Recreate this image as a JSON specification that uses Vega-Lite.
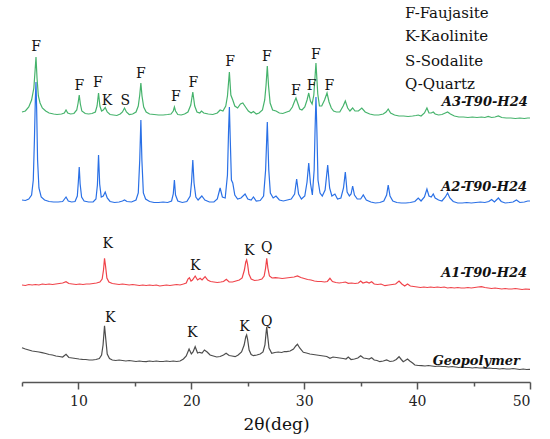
{
  "$schema": "https://vega.github.io/schema/vega-lite/v6.json",
  "width": 508,
  "height": 382,
  "autosize": {"type": "none"},
  "padding": {"left": 22, "top": 0, "right": 20, "bottom": 57},
  "background": "white",
  "config": {"view": {"stroke": null}},
  "datasets": {
    "a3": [
      {"x":5.0,"y":270},{"x":5.3,"y":271},{"x":5.6,"y":275},{"x":5.85,"y":282},{"x":6.05,"y":294},{"x":6.15,"y":310},{"x":6.24,"y":325},{"x":6.33,"y":304},{"x":6.45,"y":286},{"x":6.6,"y":279},{"x":6.8,"y":274},{"x":7.1,"y":271},{"x":7.4,"y":269},{"x":7.8,"y":268},{"x":8.1,"y":267.5},{"x":8.5,"y":268},{"x":8.75,"y":269},{"x":8.9,"y":272},{"x":9.05,"y":269},{"x":9.3,"y":268},{"x":9.6,"y":268.5},{"x":9.85,"y":272},{"x":9.97,"y":279},{"x":10.07,"y":287},{"x":10.17,"y":278},{"x":10.3,"y":271},{"x":10.6,"y":268.5},{"x":10.9,"y":268},{"x":11.2,"y":268.5},{"x":11.5,"y":270},{"x":11.65,"y":276},{"x":11.78,"y":289},{"x":11.9,"y":276},{"x":12.05,"y":271},{"x":12.2,"y":272},{"x":12.37,"y":274.5},{"x":12.55,"y":270},{"x":12.8,"y":267.5},{"x":13.1,"y":267},{"x":13.4,"y":266.5},{"x":13.7,"y":268},{"x":13.9,"y":270},{"x":14.08,"y":274},{"x":14.25,"y":270},{"x":14.5,"y":267.5},{"x":14.8,"y":268},{"x":15.1,"y":270},{"x":15.3,"y":276},{"x":15.43,"y":287},{"x":15.53,"y":299},{"x":15.63,"y":286},{"x":15.78,"y":275},{"x":16.0,"y":270},{"x":16.3,"y":268},{"x":16.7,"y":267.5},{"x":17.1,"y":267},{"x":17.5,"y":267},{"x":17.9,"y":267.5},{"x":18.2,"y":268},{"x":18.4,"y":271},{"x":18.5,"y":275},{"x":18.6,"y":271},{"x":18.8,"y":267.5},{"x":19.1,"y":267},{"x":19.4,"y":268},{"x":19.7,"y":270},{"x":19.95,"y":277},{"x":20.13,"y":290},{"x":20.3,"y":276},{"x":20.5,"y":270},{"x":20.75,"y":269},{"x":20.9,"y":271},{"x":21.1,"y":269},{"x":21.5,"y":268},{"x":21.9,"y":267.5},{"x":22.3,"y":269},{"x":22.55,"y":272},{"x":22.8,"y":271},{"x":23.05,"y":276},{"x":23.2,"y":286},{"x":23.37,"y":310},{"x":23.5,"y":287},{"x":23.67,"y":282},{"x":23.85,"y":276},{"x":24.1,"y":274},{"x":24.35,"y":278},{"x":24.56,"y":279},{"x":24.8,"y":275},{"x":25.05,"y":271},{"x":25.3,"y":269},{"x":25.5,"y":270.5},{"x":25.75,"y":268},{"x":26.0,"y":269},{"x":26.3,"y":272},{"x":26.5,"y":282},{"x":26.62,"y":297},{"x":26.73,"y":316},{"x":26.84,"y":296},{"x":26.98,"y":279},{"x":27.2,"y":272},{"x":27.5,"y":271},{"x":27.8,"y":269},{"x":28.1,"y":268.5},{"x":28.45,"y":270},{"x":28.7,"y":271},{"x":28.95,"y":275},{"x":29.12,"y":280},{"x":29.27,"y":284},{"x":29.42,"y":279},{"x":29.6,"y":273},{"x":29.8,"y":272},{"x":30.05,"y":275},{"x":30.25,"y":282},{"x":30.4,"y":289},{"x":30.55,"y":281},{"x":30.7,"y":278},{"x":30.85,"y":287},{"x":31.04,"y":319},{"x":31.2,"y":288},{"x":31.35,"y":276},{"x":31.55,"y":276},{"x":31.8,"y":282},{"x":32.02,"y":289},{"x":32.2,"y":280},{"x":32.4,"y":274},{"x":32.6,"y":271},{"x":32.85,"y":270},{"x":33.15,"y":270},{"x":33.45,"y":276},{"x":33.64,"y":281},{"x":33.85,"y":274},{"x":34.05,"y":271},{"x":34.29,"y":274},{"x":34.5,"y":271},{"x":34.8,"y":271},{"x":35.1,"y":274},{"x":35.4,"y":270},{"x":35.8,"y":268},{"x":36.2,"y":267},{"x":36.6,"y":267},{"x":37.0,"y":268},{"x":37.25,"y":270},{"x":37.44,"y":273},{"x":37.65,"y":269},{"x":38.0,"y":267},{"x":38.4,"y":266},{"x":38.8,"y":266},{"x":39.2,"y":265.5},{"x":39.6,"y":266},{"x":39.9,"y":266.5},{"x":40.1,"y":267},{"x":40.35,"y":266},{"x":40.65,"y":269},{"x":40.87,"y":274},{"x":41.05,"y":269},{"x":41.25,"y":269},{"x":41.43,"y":270},{"x":41.6,"y":268},{"x":41.9,"y":267},{"x":42.2,"y":267.5},{"x":42.5,"y":269},{"x":42.7,"y":270},{"x":42.95,"y":268},{"x":43.3,"y":266},{"x":43.7,"y":265},{"x":44.1,"y":265},{"x":44.5,"y":264.5},{"x":44.9,"y":265},{"x":45.3,"y":264.5},{"x":45.7,"y":265},{"x":46.0,"y":264.5},{"x":46.3,"y":265.5},{"x":46.6,"y":264.5},{"x":46.9,"y":265},{"x":47.2,"y":266},{"x":47.5,"y":264.5},{"x":47.9,"y":264},{"x":48.3,"y":264},{"x":48.7,"y":263.5},{"x":49.1,"y":264},{"x":49.5,"y":263.5},{"x":49.8,"y":264},{"x":50.0,"y":264}
    ],
    "a2": [
      {"x":5.0,"y":182},{"x":5.3,"y":181.5},{"x":5.6,"y":183},{"x":5.85,"y":187},{"x":6.0,"y":202},{"x":6.1,"y":242},{"x":6.18,"y":282},{"x":6.24,"y":300},{"x":6.3,"y":272},{"x":6.38,"y":222},{"x":6.5,"y":194},{"x":6.7,"y":185},{"x":7.0,"y":182},{"x":7.4,"y":180.5},{"x":7.8,"y":180},{"x":8.2,"y":180},{"x":8.6,"y":180.5},{"x":8.9,"y":185},{"x":9.1,"y":181},{"x":9.4,"y":180},{"x":9.7,"y":180.5},{"x":9.9,"y":186},{"x":9.99,"y":200},{"x":10.07,"y":215},{"x":10.15,"y":198},{"x":10.28,"y":185},{"x":10.5,"y":181},{"x":10.9,"y":180},{"x":11.3,"y":180},{"x":11.55,"y":183},{"x":11.68,"y":197},{"x":11.78,"y":227},{"x":11.88,"y":198},{"x":12.02,"y":185},{"x":12.2,"y":186},{"x":12.37,"y":190},{"x":12.55,"y":184},{"x":12.8,"y":180.5},{"x":13.2,"y":179.5},{"x":13.6,"y":180},{"x":13.9,"y":181},{"x":14.08,"y":182},{"x":14.3,"y":180.5},{"x":14.7,"y":180},{"x":15.1,"y":182},{"x":15.3,"y":189},{"x":15.43,"y":222},{"x":15.53,"y":262},{"x":15.62,"y":222},{"x":15.75,"y":189},{"x":15.95,"y":183},{"x":16.3,"y":180.5},{"x":16.7,"y":179.5},{"x":17.1,"y":179.5},{"x":17.5,"y":180},{"x":17.9,"y":179.5},{"x":18.25,"y":181},{"x":18.4,"y":188},{"x":18.5,"y":202},{"x":18.6,"y":187},{"x":18.8,"y":181},{"x":19.2,"y":179.5},{"x":19.6,"y":180.5},{"x":19.9,"y":186},{"x":20.02,"y":200},{"x":20.13,"y":222},{"x":20.24,"y":199},{"x":20.4,"y":185},{"x":20.6,"y":182},{"x":20.93,"y":186},{"x":21.2,"y":182},{"x":21.6,"y":180},{"x":22.0,"y":180},{"x":22.3,"y":183},{"x":22.55,"y":194},{"x":22.75,"y":185},{"x":23.0,"y":184},{"x":23.2,"y":207},{"x":23.3,"y":252},{"x":23.37,"y":275},{"x":23.45,"y":242},{"x":23.55,"y":202},{"x":23.67,"y":199},{"x":23.85,"y":187},{"x":24.1,"y":183},{"x":24.4,"y":184},{"x":24.76,"y":188},{"x":25.0,"y":183},{"x":25.3,"y":182},{"x":25.5,"y":185},{"x":25.75,"y":181},{"x":26.1,"y":181.5},{"x":26.4,"y":186},{"x":26.58,"y":212},{"x":26.73,"y":260},{"x":26.86,"y":212},{"x":27.0,"y":189},{"x":27.25,"y":184},{"x":27.5,"y":186},{"x":27.8,"y":182},{"x":28.15,"y":181},{"x":28.5,"y":182},{"x":28.85,"y":183},{"x":29.15,"y":188},{"x":29.33,"y":203},{"x":29.5,"y":188},{"x":29.75,"y":183},{"x":30.05,"y":186},{"x":30.25,"y":200},{"x":30.4,"y":219},{"x":30.55,"y":199},{"x":30.72,"y":187},{"x":30.88,"y":212},{"x":30.96,"y":252},{"x":31.04,"y":285},{"x":31.12,"y":252},{"x":31.22,"y":202},{"x":31.4,"y":189},{"x":31.6,"y":186},{"x":31.85,"y":192},{"x":32.08,"y":217},{"x":32.25,"y":194},{"x":32.45,"y":186},{"x":32.72,"y":188},{"x":32.95,"y":183},{"x":33.25,"y":184},{"x":33.48,"y":194},{"x":33.64,"y":210},{"x":33.8,"y":190},{"x":34.0,"y":186},{"x":34.15,"y":188},{"x":34.29,"y":196},{"x":34.45,"y":187},{"x":34.7,"y":183},{"x":35.0,"y":183},{"x":35.23,"y":187},{"x":35.5,"y":182},{"x":35.9,"y":180},{"x":36.3,"y":179},{"x":36.7,"y":179.5},{"x":37.05,"y":181},{"x":37.3,"y":187},{"x":37.44,"y":197},{"x":37.6,"y":186},{"x":37.85,"y":181},{"x":38.2,"y":179.5},{"x":38.6,"y":179},{"x":39.0,"y":179},{"x":39.4,"y":179.5},{"x":39.8,"y":180.5},{"x":40.1,"y":184},{"x":40.35,"y":181},{"x":40.65,"y":185},{"x":40.87,"y":193},{"x":41.05,"y":186},{"x":41.25,"y":185},{"x":41.43,"y":188},{"x":41.6,"y":184},{"x":41.9,"y":182},{"x":42.2,"y":181},{"x":42.5,"y":185},{"x":42.7,"y":189},{"x":42.9,"y":184},{"x":43.2,"y":180.5},{"x":43.6,"y":179},{"x":44.0,"y":179},{"x":44.4,"y":179.5},{"x":44.8,"y":179},{"x":45.2,"y":179.5},{"x":45.6,"y":180},{"x":46.0,"y":179.5},{"x":46.35,"y":180.5},{"x":46.6,"y":182.5},{"x":46.85,"y":180},{"x":47.2,"y":184},{"x":47.45,"y":180.5},{"x":47.8,"y":179},{"x":48.2,"y":179.5},{"x":48.5,"y":180},{"x":48.8,"y":182},{"x":49.1,"y":179.5},{"x":49.5,"y":180},{"x":49.8,"y":181},{"x":50.0,"y":181}
    ],
    "a1": [
      {"x":5.0,"y":97},{"x":5.3,"y":96.5},{"x":5.6,"y":97.5},{"x":5.9,"y":97},{"x":6.2,"y":97.5},{"x":6.5,"y":97},{"x":6.8,"y":98},{"x":7.1,"y":97.5},{"x":7.4,"y":98},{"x":7.7,"y":97.5},{"x":8.0,"y":98},{"x":8.3,"y":98.5},{"x":8.6,"y":99},{"x":8.9,"y":100.3},{"x":9.15,"y":98.5},{"x":9.45,"y":98},{"x":9.8,"y":97.5},{"x":10.1,"y":98},{"x":10.4,"y":97.5},{"x":10.7,"y":98},{"x":11.0,"y":98},{"x":11.3,"y":98.5},{"x":11.6,"y":99},{"x":11.9,"y":100},{"x":12.1,"y":103},{"x":12.22,"y":112},{"x":12.31,"y":123.7},{"x":12.4,"y":116},{"x":12.52,"y":104},{"x":12.7,"y":100},{"x":13.0,"y":98.5},{"x":13.3,"y":98},{"x":13.6,"y":97.5},{"x":13.9,"y":98},{"x":14.2,"y":97.5},{"x":14.5,"y":97},{"x":14.8,"y":97.5},{"x":15.1,"y":97},{"x":15.4,"y":96.5},{"x":15.7,"y":97},{"x":16.0,"y":96.5},{"x":16.3,"y":97},{"x":16.6,"y":96.5},{"x":16.9,"y":97},{"x":17.2,"y":96},{"x":17.5,"y":96.5},{"x":17.8,"y":97},{"x":18.1,"y":96.5},{"x":18.4,"y":97},{"x":18.7,"y":97.5},{"x":19.0,"y":97},{"x":19.3,"y":98},{"x":19.55,"y":99},{"x":19.7,"y":103},{"x":19.83,"y":104.3},{"x":19.97,"y":101},{"x":20.1,"y":102},{"x":20.34,"y":106},{"x":20.55,"y":102},{"x":20.78,"y":103.7},{"x":20.95,"y":102},{"x":21.22,"y":105.3},{"x":21.45,"y":102},{"x":21.7,"y":100.5},{"x":22.0,"y":100},{"x":22.3,"y":99.5},{"x":22.6,"y":100},{"x":22.85,"y":100.5},{"x":23.1,"y":102.7},{"x":23.35,"y":100},{"x":23.65,"y":100},{"x":23.95,"y":101},{"x":24.25,"y":102},{"x":24.5,"y":104},{"x":24.7,"y":112},{"x":24.82,"y":120},{"x":24.9,"y":122},{"x":24.98,"y":118},{"x":25.1,"y":108},{"x":25.3,"y":103},{"x":25.6,"y":101.5},{"x":25.95,"y":102},{"x":26.25,"y":103},{"x":26.45,"y":106},{"x":26.58,"y":114},{"x":26.68,"y":123.7},{"x":26.78,"y":114},{"x":26.92,"y":106},{"x":27.15,"y":104},{"x":27.45,"y":104.3},{"x":27.75,"y":104},{"x":28.05,"y":103.5},{"x":28.4,"y":104},{"x":28.75,"y":104.5},{"x":29.1,"y":105},{"x":29.4,"y":106},{"x":29.7,"y":104.5},{"x":30.0,"y":103.5},{"x":30.3,"y":102.5},{"x":30.6,"y":102},{"x":30.9,"y":101},{"x":31.2,"y":100.5},{"x":31.5,"y":100.5},{"x":31.8,"y":100},{"x":32.05,"y":100.5},{"x":32.28,"y":103.7},{"x":32.5,"y":100.5},{"x":32.8,"y":99.5},{"x":33.1,"y":99},{"x":33.4,"y":99.5},{"x":33.65,"y":100},{"x":33.9,"y":98.7},{"x":34.2,"y":99},{"x":34.5,"y":98.5},{"x":34.8,"y":99},{"x":35.0,"y":101},{"x":35.2,"y":99},{"x":35.53,"y":100},{"x":35.75,"y":99},{"x":35.97,"y":100.3},{"x":36.2,"y":98},{"x":36.5,"y":97.5},{"x":36.8,"y":98},{"x":37.15,"y":96.3},{"x":37.5,"y":97},{"x":37.8,"y":97.5},{"x":38.1,"y":98},{"x":38.4,"y":101},{"x":38.65,"y":98},{"x":38.9,"y":96},{"x":39.15,"y":98},{"x":39.4,"y":96},{"x":39.7,"y":95.5},{"x":40.0,"y":95},{"x":40.3,"y":94.5},{"x":40.6,"y":95},{"x":40.9,"y":94.5},{"x":41.2,"y":95},{"x":41.5,"y":94.5},{"x":41.8,"y":95},{"x":42.1,"y":94.5},{"x":42.4,"y":95},{"x":42.7,"y":94},{"x":43.0,"y":94.5},{"x":43.3,"y":94},{"x":43.6,"y":94.5},{"x":43.9,"y":94},{"x":44.2,"y":94},{"x":44.5,"y":94.5},{"x":44.8,"y":94},{"x":45.1,"y":94.5},{"x":45.4,"y":95},{"x":45.7,"y":95.3},{"x":46.0,"y":94.5},{"x":46.3,"y":94},{"x":46.6,"y":93.5},{"x":46.9,"y":94},{"x":47.2,"y":93.5},{"x":47.5,"y":93},{"x":47.8,"y":93.5},{"x":48.1,"y":93},{"x":48.4,"y":93},{"x":48.7,"y":93.5},{"x":49.0,"y":93},{"x":49.3,"y":92.5},{"x":49.6,"y":93},{"x":50.0,"y":92.7}
    ],
    "geo": [
      {"x":5.0,"y":34.3},{"x":5.3,"y":33},{"x":5.6,"y":32},{"x":5.9,"y":31},{"x":6.2,"y":30.5},{"x":6.5,"y":30},{"x":6.77,"y":29.3},{"x":7.1,"y":28.5},{"x":7.4,"y":27.5},{"x":7.7,"y":27},{"x":8.0,"y":26},{"x":8.3,"y":25.5},{"x":8.6,"y":25},{"x":8.9,"y":27.7},{"x":9.15,"y":24.5},{"x":9.45,"y":24},{"x":9.75,"y":23.5},{"x":10.05,"y":23},{"x":10.35,"y":22.7},{"x":10.65,"y":22.5},{"x":10.95,"y":22},{"x":11.25,"y":22},{"x":11.55,"y":22.5},{"x":11.85,"y":23.5},{"x":12.05,"y":27},{"x":12.18,"y":37},{"x":12.31,"y":56.3},{"x":12.43,"y":42},{"x":12.55,"y":28},{"x":12.75,"y":23.5},{"x":13.0,"y":22},{"x":13.3,"y":21.5},{"x":13.6,"y":22},{"x":13.9,"y":21.5},{"x":14.2,"y":21},{"x":14.5,"y":21.5},{"x":14.8,"y":21},{"x":15.1,"y":20.5},{"x":15.4,"y":21},{"x":15.7,"y":20.5},{"x":16.0,"y":20.3},{"x":16.3,"y":21},{"x":16.6,"y":20.5},{"x":16.9,"y":21},{"x":17.2,"y":20.5},{"x":17.5,"y":20.5},{"x":17.8,"y":21},{"x":18.1,"y":20.5},{"x":18.4,"y":21},{"x":18.7,"y":20.5},{"x":19.0,"y":21},{"x":19.3,"y":23},{"x":19.55,"y":26},{"x":19.8,"y":33},{"x":20.0,"y":28},{"x":20.15,"y":30},{"x":20.34,"y":35.3},{"x":20.55,"y":29},{"x":20.72,"y":29.7},{"x":20.95,"y":29},{"x":21.16,"y":32},{"x":21.4,"y":30},{"x":21.66,"y":27},{"x":21.95,"y":26},{"x":22.25,"y":25},{"x":22.55,"y":25.5},{"x":22.85,"y":27},{"x":23.08,"y":28.7},{"x":23.35,"y":26.5},{"x":23.6,"y":26},{"x":23.88,"y":25.3},{"x":24.15,"y":27},{"x":24.45,"y":30},{"x":24.68,"y":37},{"x":24.82,"y":45},{"x":24.9,"y":47},{"x":24.98,"y":43},{"x":25.12,"y":32},{"x":25.3,"y":27.5},{"x":25.5,"y":26.3},{"x":25.8,"y":27},{"x":26.1,"y":28},{"x":26.35,"y":30},{"x":26.52,"y":37},{"x":26.62,"y":49},{"x":26.68,"y":55.3},{"x":26.76,"y":46},{"x":26.88,"y":34},{"x":27.12,"y":28.7},{"x":27.4,"y":29.5},{"x":27.7,"y":30},{"x":28.0,"y":29.5},{"x":28.25,"y":30.5},{"x":28.45,"y":30.3},{"x":28.75,"y":31},{"x":29.05,"y":33},{"x":29.25,"y":36},{"x":29.4,"y":37.7},{"x":29.6,"y":34},{"x":29.92,"y":29.7},{"x":30.2,"y":29},{"x":30.5,"y":28},{"x":30.8,"y":27.5},{"x":31.1,"y":27},{"x":31.4,"y":26.5},{"x":31.7,"y":26},{"x":32.0,"y":25.5},{"x":32.28,"y":23.7},{"x":32.55,"y":25},{"x":32.85,"y":24.5},{"x":33.15,"y":24},{"x":33.45,"y":23.5},{"x":33.7,"y":23},{"x":33.9,"y":25},{"x":34.15,"y":22.5},{"x":34.45,"y":23},{"x":34.75,"y":24},{"x":35.0,"y":26.3},{"x":35.25,"y":24},{"x":35.53,"y":23.5},{"x":35.75,"y":23},{"x":35.97,"y":24.3},{"x":36.2,"y":22},{"x":36.45,"y":21.5},{"x":36.7,"y":20.3},{"x":37.0,"y":21},{"x":37.3,"y":22},{"x":37.6,"y":20.5},{"x":37.9,"y":21},{"x":38.15,"y":22.5},{"x":38.4,"y":25.3},{"x":38.6,"y":22.5},{"x":38.77,"y":20.3},{"x":38.95,"y":21.5},{"x":39.15,"y":23},{"x":39.35,"y":21},{"x":39.6,"y":19},{"x":39.8,"y":17},{"x":40.1,"y":16.5},{"x":40.4,"y":16.3},{"x":40.7,"y":16},{"x":41.0,"y":16.5},{"x":41.3,"y":16},{"x":41.6,"y":15.5},{"x":41.9,"y":16},{"x":42.2,"y":15.5},{"x":42.5,"y":15.5},{"x":42.8,"y":15},{"x":43.1,"y":15.5},{"x":43.4,"y":15},{"x":43.7,"y":14.5},{"x":44.0,"y":15},{"x":44.3,"y":14.5},{"x":44.6,"y":14.5},{"x":44.9,"y":14},{"x":45.2,"y":14.5},{"x":45.5,"y":14},{"x":45.8,"y":14},{"x":46.1,"y":13.5},{"x":46.4,"y":14},{"x":46.7,"y":13.5},{"x":47.0,"y":13.5},{"x":47.3,"y":13},{"x":47.6,"y":13.5},{"x":47.9,"y":13},{"x":48.2,"y":13},{"x":48.5,"y":13.5},{"x":48.8,"y":13},{"x":49.1,"y":12.5},{"x":49.4,"y":13},{"x":49.7,"y":12.5},{"x":50.0,"y":12.7}
    ],
    "peaks": [
      {"x":6.24,"y":335,"t":"F"},{"x":10.07,"y":296.3,"t":"F"},{"x":11.73,"y":298.7,"t":"F"},{"x":12.52,"y":281.3,"t":"K"},{"x":14.14,"y":281,"t":"S"},{"x":15.53,"y":307.7,"t":"F"},{"x":18.63,"y":284.7,"t":"F"},{"x":20.19,"y":299.3,"t":"F"},{"x":23.43,"y":320.3,"t":"F"},{"x":26.68,"y":325.3,"t":"F"},{"x":29.27,"y":291.3,"t":"F"},{"x":30.66,"y":296.3,"t":"F"},{"x":31.02,"y":327,"t":"F"},{"x":32.22,"y":296,"t":"F"},
      {"x":12.6,"y":137.7,"t":"K"},{"x":20.34,"y":116.5,"t":"K"},{"x":25.12,"y":131,"t":"K"},{"x":26.68,"y":134.3,"t":"Q"},
      {"x":12.81,"y":63.7,"t":"K"},{"x":20.07,"y":49.5,"t":"K"},{"x":24.7,"y":55.3,"t":"K"},{"x":26.68,"y":60.3,"t":"Q"}
    ],
    "names": [
      {"x":49.8,"y":276,"t":"A3-T90-H24"},
      {"x":49.75,"y":191.3,"t":"A2-T90-H24"},
      {"x":49.74,"y":105.3,"t":"A1-T90-H24"},
      {"x":49.1,"y":17,"t":"Geopolymer"}
    ],
    "key": [
      {"x":38.92,"y":368.7,"t":"F-Faujasite"},
      {"x":38.92,"y":346,"t":"K-Kaolinite"},
      {"x":38.92,"y":321.3,"t":"S-Sodalite"},
      {"x":38.92,"y":298,"t":"Q-Quartz"}
    ]
  },
  "encoding": {
    "x": {
      "field": "x",
      "type": "quantitative",
      "scale": {"domain": [5, 50], "nice": false, "zero": false},
      "axis": {
        "title": "2θ(deg)",
        "values": [5, 10, 15, 20, 25, 30, 35, 40, 45, 50],
        "labelExpr": "datum.value % 10 === 0 ? datum.label : ''",
        "grid": false,
        "domainColor": "#555555",
        "domainWidth": 1.5,
        "tickColor": "#555555",
        "tickWidth": 1.5,
        "tickSize": {"condition": {"test": "datum.value % 10 === 0", "value": 7}, "value": 4},
        "labelFont": "DejaVu Serif",
        "labelFontSize": 14,
        "labelColor": "#222222",
        "labelPadding": 5,
        "titleFont": "DejaVu Serif",
        "titleFontSize": 17,
        "titleFontWeight": "normal",
        "titleColor": "#111111",
        "titlePadding": 8
      }
    },
    "y": {
      "field": "y",
      "type": "quantitative",
      "scale": {"domain": [0, 382], "nice": false, "zero": false},
      "axis": null
    }
  },
  "layer": [
    {"data": {"name": "geo"}, "mark": {"type": "line", "color": "#4d4d4d", "strokeWidth": 1.2}},
    {"data": {"name": "a1"}, "mark": {"type": "line", "color": "#f0434a", "strokeWidth": 1.2}},
    {"data": {"name": "a2"}, "mark": {"type": "line", "color": "#2a70e6", "strokeWidth": 1.2}},
    {"data": {"name": "a3"}, "mark": {"type": "line", "color": "#46b36c", "strokeWidth": 1.2}},
    {
      "data": {"name": "peaks"},
      "mark": {"type": "text", "font": "DejaVu Serif", "fontSize": 14, "color": "#111111", "baseline": "middle", "align": "center"},
      "encoding": {"text": {"field": "t"}}
    },
    {
      "data": {"name": "names"},
      "mark": {"type": "text", "font": "DejaVu Serif", "fontSize": 13, "fontStyle": "italic", "fontWeight": "bold", "color": "#111111", "baseline": "alphabetic", "align": "right"},
      "encoding": {"text": {"field": "t"}}
    },
    {
      "data": {"name": "key"},
      "mark": {"type": "text", "font": "DejaVu Serif", "fontSize": 15, "color": "#111111", "baseline": "middle", "align": "left"},
      "encoding": {"text": {"field": "t"}}
    }
  ]
}
